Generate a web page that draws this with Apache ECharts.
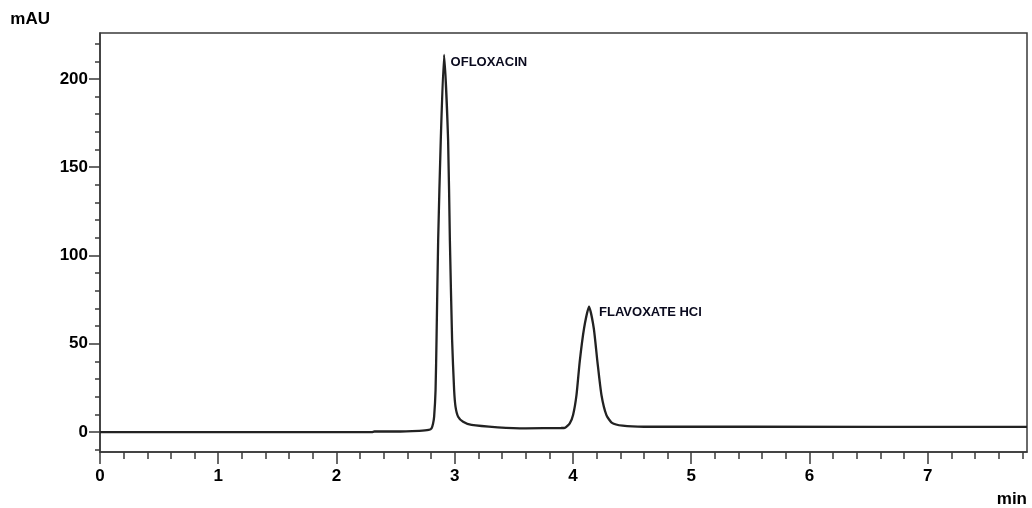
<!DOCTYPE html>
<html>
<head>
<meta charset="UTF-8">
<title>Chromatogram</title>
<script src="https://cdn.jsdelivr.net/npm/echarts@6/dist/echarts.min.js"></script>
<style>
    html, body { margin: 0; padding: 0; background: #fff; }
    #main { width: 1032px; height: 508px; }
</style>
</head>
<body>
<div id="main"></div>
<script>
// retention time (min) and detector signal (mAU)
var timeMin = [0, 1.0, 2.0, 2.3, 2.32, 2.5, 2.7, 2.78, 2.804, 2.817, 2.826, 2.838, 2.846, 2.86, 2.882, 2.91,
    2.944, 2.959, 2.978, 2.995, 3.007, 3.029, 3.071, 3.142, 3.364, 3.6, 3.9, 3.931, 3.973, 4.001, 4.03, 4.057,
    4.094, 4.136, 4.176, 4.207, 4.241, 4.283, 4.33, 4.42, 4.6, 5.5, 7.84];
var signal = [0, 0, 0, 0, 0.3, 0.3, 0.7, 1.2, 2.1, 4.9, 8.7, 23.8, 52, 108.8, 165.4, 213.6,
    165.4, 108.8, 52, 23.8, 14.3, 8.7, 5.8, 4.0, 2.7, 2.1, 2.3, 2.4, 4.9, 9.6, 21, 39.8,
    58.8, 71, 58.8, 39.8, 21, 9.6, 5.2, 3.6, 3.0, 3.0, 2.9];

var peakNames = ['OFLOXACIN', 'FLAVOXATE HCl'];
var peakTimes = [2.91, 4.136];
var peakHeights = [213.6, 71];

var yMajor = [0, 50, 100, 150, 200];
var yMinor = [-10, 10, 20, 30, 40, 60, 70, 80, 90, 110, 120, 130, 140, 160, 170, 180, 190, 210, 220];
var xMajor = [0, 1, 2, 3, 4, 5, 6, 7];
var xMinor = [0.2, 0.4, 0.6, 0.8, 1.2, 1.4, 1.6, 1.8, 2.2, 2.4, 2.6, 2.8, 3.2, 3.4, 3.6, 3.8,
    4.2, 4.4, 4.6, 4.8, 5.2, 5.4, 5.6, 5.8, 6.2, 6.4, 6.6, 6.8, 7.2, 7.4, 7.6, 7.8];

var trace = [];
for (var i = 0; i < timeMin.length; i++) {
    trace.push([timeMin[i], signal[i]]);
}
var labelOffsets = [[1.5, 8], [5, 6]];
var peaks = [];
for (var j = 0; j < peakNames.length; j++) {
    peaks.push({
        name: peakNames[j],
        value: [peakTimes[j], peakHeights[j]],
        label: { offset: labelOffsets[j] }
    });
}

var ink = '#000';
var frame = '#3a3a3a';
var font = 'Liberation Sans, Arial, sans-serif';

var myChart = echarts.init(document.getElementById('main'));
var option = {
    animation: false,
    grid: {
        left: 100, right: 5, top: 33, bottom: 56,
        show: true, borderColor: frame, borderWidth: 1.5, backgroundColor: 'transparent'
    },
    xAxis: [{
        type: 'value', min: 0, max: 7.84, position: 'bottom',
        name: 'min', nameLocation: 'end', nameGap: 0,
        nameTextStyle: { color: ink, fontFamily: font, fontWeight: 'bold', fontSize: 17,
            align: 'right', verticalAlign: 'top', padding: [39, 0, 0, 0] },
        axisLine: { show: true, onZero: false, lineStyle: { color: frame, width: 1.5 } },
        axisTick: { show: true, length: 12, customValues: xMajor, lineStyle: { color: frame, width: 1.5 } },
        axisLabel: { customValues: xMajor, margin: 16, color: ink, fontFamily: font, fontWeight: 'bold', fontSize: 17 },
        splitLine: { show: false }
    }, {
        type: 'value', min: 0, max: 7.84, position: 'bottom', offset: 0,
        axisLine: { show: false, onZero: false },
        axisTick: { show: true, length: 7, customValues: xMinor, lineStyle: { color: frame, width: 1.5 } },
        axisLabel: { show: false },
        splitLine: { show: false }
    }],
    yAxis: [{
        type: 'value', min: -11.3, max: 226, position: 'left',
        name: 'mAU', nameLocation: 'end', nameGap: 5,
        nameTextStyle: { color: ink, fontFamily: font, fontWeight: 'bold', fontSize: 17,
            align: 'right', verticalAlign: 'bottom', padding: [0, 50, 0, 0] },
        axisLine: { show: true, onZero: false, lineStyle: { color: frame, width: 1.5 } },
        axisTick: { show: true, length: 11, customValues: yMajor, lineStyle: { color: frame, width: 1.5 } },
        axisLabel: { customValues: yMajor, margin: 12, color: ink, fontFamily: font, fontWeight: 'bold', fontSize: 17 },
        splitLine: { show: false }
    }, {
        type: 'value', min: -11.3, max: 226, position: 'left', offset: 0,
        axisLine: { show: false, onZero: false },
        axisTick: { show: true, length: 5, customValues: yMinor, lineStyle: { color: frame, width: 1.5 } },
        axisLabel: { show: false },
        splitLine: { show: false }
    }],
    series: [{
        name: 'signal',
        type: 'line',
        data: trace,
        showSymbol: false,
        smooth: 0.2,
        lineStyle: { color: '#222', width: 2.3 }
    }, {
        name: 'peaks',
        type: 'scatter',
        data: peaks,
        symbolSize: 0,
        itemStyle: { opacity: 1 },
        label: {
            show: true, position: 'right', distance: 5, formatter: '{b}', opacity: 1,
            color: '#0a0a1e', fontFamily: font, fontWeight: 'bold', fontSize: 13
        }
    }]
};
myChart.setOption(option);
</script>
</body>
</html>
